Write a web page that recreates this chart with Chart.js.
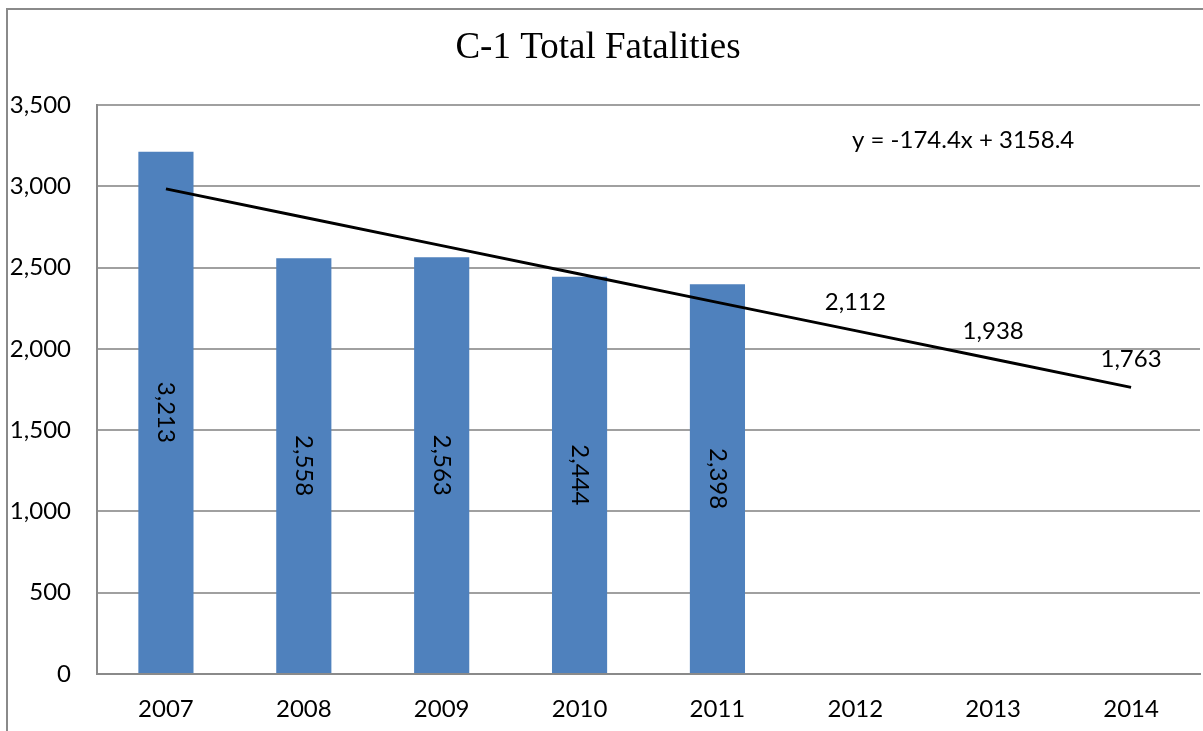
<!DOCTYPE html>
<html>
<head>
<meta charset="utf-8">
<script src="https://cdn.jsdelivr.net/npm/chart.js@4.4.0/dist/chart.umd.min.js"></script>
<style>
  html, body { margin: 0; padding: 0; background: #fff; }
  #wrap { width: 1203px; height: 731px; position: relative; }
</style>
</head>
<body>
<div id="wrap"><canvas id="fatalChart"></canvas></div>
<script>
// data
const years = ['2007', '2008', '2009', '2010', '2011', '2012', '2013', '2014'];
const fatalities = [3213, 2558, 2563, 2444, 2398, null, null, null];
const trendValues = [2984, 2810, 2635, 2461, 2286, 2112, 1938, 1763];
const trendLabels = [null, null, null, null, null, '2,112', '1,938', '1,763'];
const yTicks = [0, 500, 1000, 1500, 2000, 2500, 3000, 3500];
const chartTitle = 'C-1 Total Fatalities';
const equationText = 'y = -174.4x + 3158.4';

const labelFont = '24px Lato, "Open Sans", sans-serif';

function fmt(v) {
    return v.toLocaleString('en-US');
}

// frame, title, equation and value labels
const decorPlugin = {
    id: 'decor',
    beforeDraw(chart) {
        const ctx = chart.ctx;
        ctx.save();
        ctx.strokeStyle = '#8a8a8a';
        ctx.lineWidth = 2;
        ctx.beginPath();
        ctx.moveTo(7, 731);
        ctx.lineTo(7, 9);
        ctx.lineTo(1203, 9);
        ctx.stroke();
        ctx.restore();
    },
    afterDatasetsDraw(chart) {
        const ctx = chart.ctx;
        const x = chart.scales.x;
        const y = chart.scales.y;
        ctx.save();
        ctx.fillStyle = '#000';

        // title
        ctx.font = '37px "Liberation Serif", "Times New Roman", serif';
        ctx.textAlign = 'center';
        ctx.textBaseline = 'middle';
        ctx.fillText(chartTitle, 598, 48);

        // trend equation
        ctx.font = labelFont;
        ctx.textAlign = 'left';
        ctx.fillText(equationText, 852, 140);

        // rotated labels inside bars
        const barMeta = chart.getDatasetMeta(0);
        barMeta.data.forEach(function(bar, i) {
            if (fatalities[i] == null) return;
            const midY = (bar.y + bar.base) / 2;
            ctx.save();
            ctx.translate(bar.x, midY);
            ctx.rotate(Math.PI / 2);
            ctx.textAlign = 'center';
            ctx.textBaseline = 'middle';
            ctx.fillText(fmt(fatalities[i]), 0, 0);
            ctx.restore();
        });

        // forecast labels above trend line
        ctx.textAlign = 'center';
        ctx.textBaseline = 'middle';
        trendLabels.forEach(function(t, i) {
            if (!t) return;
            ctx.fillText(t, x.getPixelForValue(i), y.getPixelForValue(trendValues[i]) - 28);
        });
        ctx.restore();
    }
};

const ctx1 = document.getElementById('fatalChart').getContext('2d');
new Chart(ctx1, {
    type: 'bar',
    data: {
        labels: years,
        datasets: [{
            type: 'bar',
            label: 'Fatalities',
            data: fatalities,
            backgroundColor: '#4F81BD',
            borderWidth: 0,
            categoryPercentage: 1.0,
            barPercentage: 0.4,
            order: 2
        }, {
            type: 'line',
            label: 'Trend',
            data: trendValues,
            borderColor: '#000',
            borderWidth: 3,
            pointRadius: 0,
            fill: false,
            tension: 0,
            order: 1
        }]
    },
    options: {
        responsive: true,
        maintainAspectRatio: false,
        animation: false,
        layout: { padding: { top: 105, left: 8, right: 3, bottom: 0 } },
        scales: {
            y: {
                min: 0,
                max: 3500,
                afterBuildTicks: function(scale) {
                    scale.ticks = yTicks.map(function(v) { return { value: v }; });
                },
                afterFit: function(scale) { scale.width = 89; },
                ticks: {
                    color: '#000',
                    font: { family: 'Lato, "Open Sans", sans-serif', size: 24 },
                    padding: 26,
                    callback: function(v) { return fmt(v); }
                },
                grid: { color: '#a0a0a0', lineWidth: 2, drawTicks: false },
                border: { color: '#8a8a8a', width: 2 }
            },
            x: {
                afterFit: function(scale) { scale.height = 57; },
                ticks: {
                    color: '#000',
                    font: { family: 'Lato, "Open Sans", sans-serif', size: 24 },
                    padding: 21,
                    maxRotation: 0
                },
                grid: { display: false, drawTicks: false },
                border: { color: '#8a8a8a', width: 2 }
            }
        },
        plugins: {
            legend: { display: false },
            tooltip: { enabled: false }
        }
    },
    plugins: [decorPlugin]
});
</script>
</body>
</html>
